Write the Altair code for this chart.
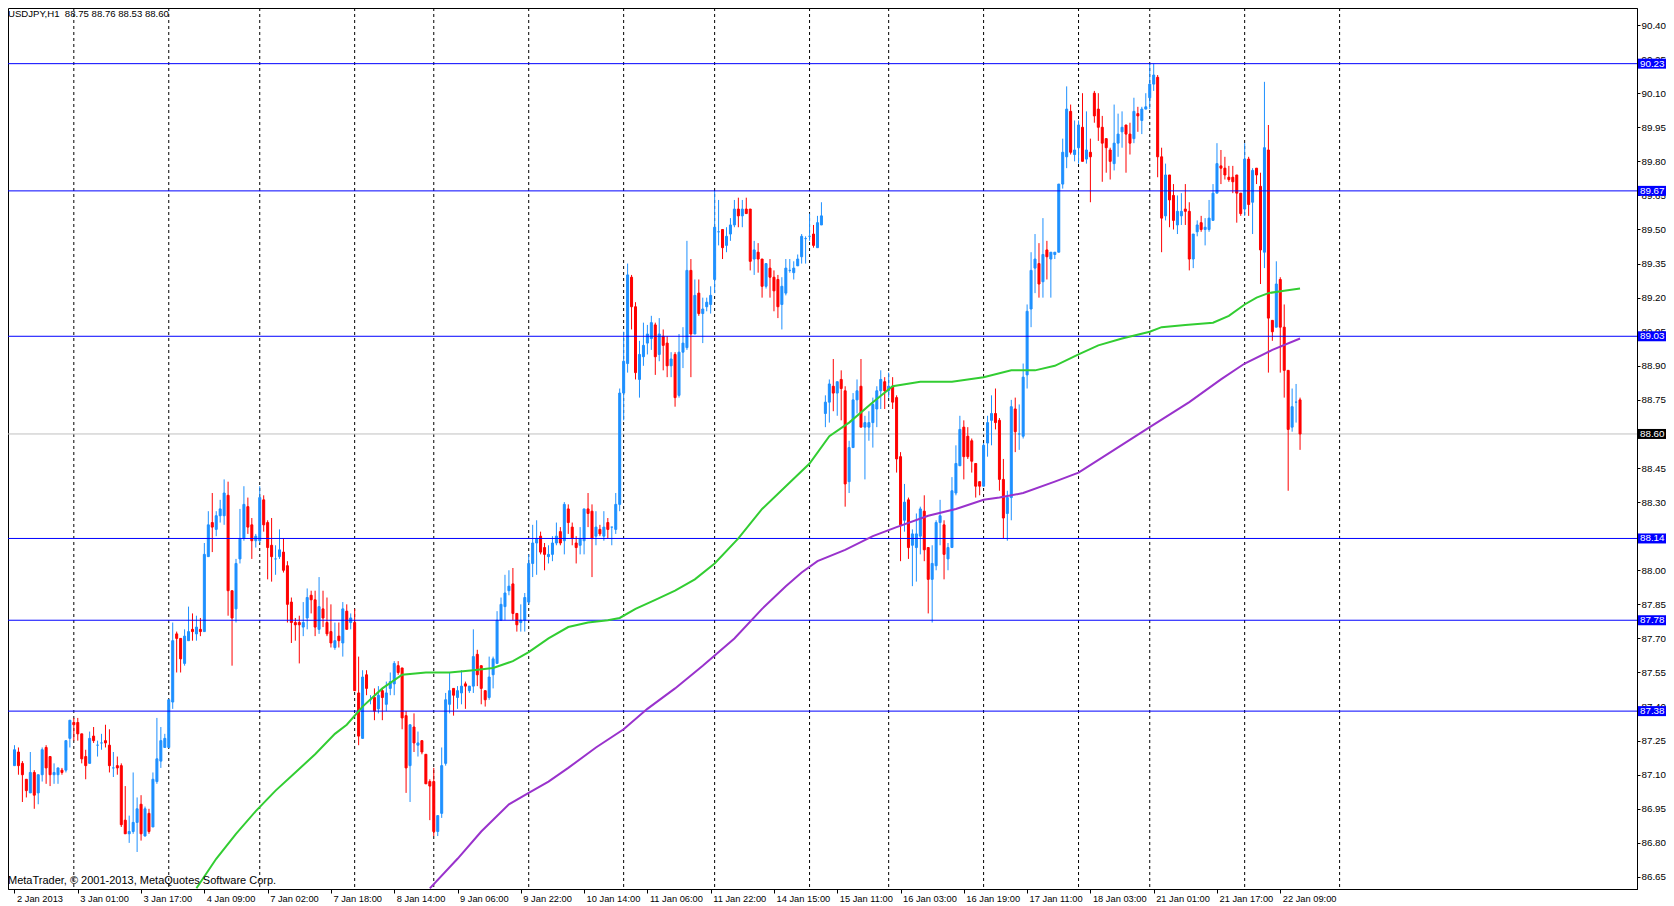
import json
import altair as alt
import pandas as pd

# ---------------- data ----------------
OPEN = [
    87.14, 87.20, 87.15, 87.08, 87.02, 87.11, 87.02, 87.10, 87.22, 87.18,
    87.10, 87.10, 87.12, 87.12, 87.26, 87.33, 87.33, 87.28, 87.18, 87.15,
    87.27, 87.23, 87.24, 87.25, 87.23, 87.13, 87.14, 87.14, 86.90, 86.84,
    86.85, 86.89, 86.97, 86.83, 86.93, 86.87, 87.07, 87.16, 87.22, 87.22,
    87.42, 87.72, 87.70, 87.59, 87.69, 87.74, 87.72, 87.74, 87.73, 88.06,
    88.21, 88.18, 88.24, 88.24, 88.33, 87.91, 87.83, 88.05, 88.14, 88.28,
    88.20, 88.13, 88.13, 88.31, 88.21, 88.11, 88.05, 88.06, 88.08, 88.02,
    87.86, 87.77, 87.77, 87.75, 87.79, 87.89, 87.87, 87.74, 87.83, 87.77,
    87.73, 87.66, 87.71, 87.68, 87.82, 87.77, 87.77, 87.46, 87.26, 87.54,
    87.43, 87.44, 87.39, 87.47, 87.41, 87.48, 87.50, 87.58, 87.57, 87.36,
    87.14, 87.31, 87.23, 87.25, 87.19, 87.07, 87.07, 86.85, 86.93, 87.15,
    87.41, 87.48, 87.44, 87.46, 87.50, 87.47, 87.49, 87.63, 87.58, 87.47,
    87.44, 87.54, 87.59, 87.78, 87.84, 87.91, 87.94, 87.81, 87.77, 87.78,
    87.86, 88.03, 88.12, 88.15, 88.10, 88.06, 88.07, 88.12, 88.17, 88.13,
    88.27, 88.19, 88.12, 88.11, 88.13, 88.27, 88.26, 88.15, 88.18, 88.15,
    88.21, 88.19, 88.18, 88.29, 88.78, 88.91, 89.29, 89.16, 88.84, 88.94,
    89.00, 89.02, 89.08, 88.95, 89.03, 89.00, 88.90, 88.95, 88.77, 88.96,
    88.98, 89.32, 89.04, 89.22, 89.13, 89.16, 89.17, 89.28, 89.49, 89.50,
    89.43, 89.48, 89.52, 89.59, 89.56, 89.59, 89.59, 89.37, 89.40, 89.37,
    89.25, 89.33, 89.29, 89.28, 89.17, 89.22, 89.32, 89.31, 89.34, 89.38,
    89.46, 89.47, 89.48, 89.42, 89.52, 88.69, 88.74, 88.81, 88.78, 88.84,
    88.79, 88.39, 88.54, 88.75, 88.81, 88.63, 88.63, 88.65, 88.71, 88.79,
    88.83, 88.79, 88.81, 88.76, 88.50, 88.22, 88.31, 88.11, 88.10, 88.15,
    88.26, 88.10, 87.96, 88.02, 88.21, 88.20, 88.05, 88.10, 88.34, 88.46,
    88.63, 88.59, 88.57, 88.47, 88.39, 88.37, 88.56, 88.66, 88.69, 88.66,
    88.40, 88.25, 88.32, 88.71, 88.60, 88.59, 88.86, 89.15, 89.33, 89.35,
    89.27, 89.41, 89.37, 89.39, 89.40, 89.70, 89.82, 90.02, 89.83, 89.86,
    89.95, 89.81, 89.84, 90.10, 90.03, 89.95, 89.90, 89.85, 89.79, 89.88,
    89.93, 89.96, 89.92, 89.90, 90.01, 89.98, 90.03, 90.08, 90.14, 90.17,
    89.82, 89.56, 89.74, 89.65, 89.52, 89.56, 89.59, 89.58, 89.37, 89.49,
    89.53, 89.50, 89.50, 89.54, 89.66, 89.78, 89.77, 89.73, 89.73, 89.74,
    89.66, 89.59, 89.81, 89.62, 89.77, 89.69, 89.40, 89.85, 89.10, 89.07,
    89.28, 89.07, 88.88, 88.63, 88.74, 88.75,
]
HIGH = [
    87.23, 87.22, 87.16, 87.08, 87.20, 87.12, 87.10, 87.22, 87.23, 87.18,
    87.15, 87.13, 87.13, 87.25, 87.34, 87.35, 87.35, 87.28, 87.21, 87.29,
    87.31, 87.25, 87.28, 87.32, 87.30, 87.20, 87.18, 87.15, 87.05, 86.92,
    87.11, 87.00, 87.01, 86.96, 86.95, 87.11, 87.35, 87.31, 87.28, 87.43,
    87.77, 87.73, 87.70, 87.74, 87.84, 87.81, 87.80, 87.79, 88.12, 88.26,
    88.34, 88.26, 88.31, 88.40, 88.39, 87.91, 88.05, 88.27, 88.37, 88.32,
    88.23, 88.16, 88.37, 88.33, 88.22, 88.23, 88.11, 88.18, 88.14, 88.04,
    87.88, 87.79, 87.80, 87.86, 87.92, 87.91, 87.91, 87.97, 87.91, 87.88,
    87.85, 87.77, 87.77, 87.86, 87.85, 87.81, 87.83, 87.62, 87.56, 87.56,
    87.45, 87.48, 87.49, 87.48, 87.51, 87.55, 87.60, 87.60, 87.57, 87.38,
    87.32, 87.37, 87.29, 87.25, 87.19, 87.08, 87.13, 86.92, 87.22, 87.46,
    87.55, 87.48, 87.49, 87.56, 87.51, 87.49, 87.74, 87.65, 87.58, 87.47,
    87.62, 87.62, 87.82, 87.88, 87.98, 88.00, 88.01, 87.81, 87.85, 87.90,
    88.07, 88.20, 88.22, 88.17, 88.12, 88.11, 88.15, 88.21, 88.19, 88.30,
    88.29, 88.21, 88.15, 88.19, 88.27, 88.34, 88.29, 88.26, 88.20, 88.26,
    88.23, 88.19, 88.34, 88.80, 89.05, 89.35, 89.30, 89.18, 89.01, 89.09,
    89.08, 89.12, 89.09, 89.11, 89.06, 89.03, 88.96, 88.96, 89.04, 89.07,
    89.45, 89.37, 89.28, 89.28, 89.20, 89.20, 89.25, 89.67, 89.63, 89.50,
    89.51, 89.55, 89.63, 89.64, 89.63, 89.64, 89.59, 89.45, 89.44, 89.37,
    89.35, 89.37, 89.32, 89.30, 89.29, 89.37, 89.37, 89.36, 89.39, 89.48,
    89.47, 89.57, 89.52, 89.56, 89.62, 88.77, 88.84, 88.93, 88.83, 88.88,
    88.81, 88.57, 88.78, 88.84, 88.93, 88.68, 88.70, 88.76, 88.81, 88.88,
    88.85, 88.87, 88.85, 88.77, 88.52, 88.38, 88.32, 88.18, 88.25, 88.28,
    88.33, 88.10, 88.11, 88.22, 88.31, 88.22, 88.12, 88.41, 88.55, 88.68,
    88.66, 88.63, 88.58, 88.47, 88.39, 88.56, 88.68, 88.77, 88.80, 88.67,
    88.49, 88.35, 88.75, 88.76, 88.73, 88.91, 89.17, 89.40, 89.48, 89.44,
    89.55, 89.45, 89.40, 89.40, 89.70, 89.90, 90.13, 90.05, 89.98, 89.98,
    90.10, 90.02, 89.90, 90.11, 90.10, 90.00, 89.90, 89.86, 90.05, 90.01,
    90.02, 89.96, 89.97, 90.08, 90.04, 90.04, 90.10, 90.23, 90.23, 90.18,
    89.86, 89.79, 89.74, 89.70, 89.65, 89.66, 89.70, 89.62, 89.48, 89.54,
    89.56, 89.55, 89.63, 89.70, 89.88, 89.85, 89.82, 89.78, 89.78, 89.74,
    89.66, 89.88, 89.82, 89.77, 89.77, 89.75, 90.15, 89.96, 89.10, 89.36,
    89.29, 89.17, 88.88, 88.80, 88.82, 88.76,
]
LOW = [
    87.14, 87.10, 86.98, 87.00, 87.02, 86.95, 86.97, 87.07, 87.06, 87.05,
    87.06, 87.06, 87.10, 87.11, 87.22, 87.25, 87.25, 87.15, 87.08, 87.15,
    87.24, 87.18, 87.21, 87.22, 87.11, 87.09, 87.10, 86.87, 86.84, 86.80,
    86.84, 86.76, 86.81, 86.83, 86.84, 86.87, 87.06, 87.13, 87.22, 87.22,
    87.39, 87.55, 87.55, 87.58, 87.69, 87.69, 87.69, 87.71, 87.73, 88.06,
    88.08, 88.15, 88.21, 88.20, 87.80, 87.58, 87.77, 88.03, 88.13, 88.16,
    88.05, 88.10, 88.12, 88.17, 87.96, 87.95, 87.98, 88.05, 87.99, 87.77,
    87.68, 87.69, 87.59, 87.71, 87.74, 87.81, 87.71, 87.72, 87.75, 87.71,
    87.66, 87.65, 87.66, 87.62, 87.74, 87.74, 87.47, 87.23, 87.26, 87.45,
    87.41, 87.34, 87.37, 87.34, 87.38, 87.45, 87.45, 87.54, 87.30, 87.02,
    86.98, 87.20, 87.18, 87.19, 87.06, 86.90, 86.83, 86.83, 86.91, 87.14,
    87.37, 87.36, 87.39, 87.41, 87.39, 87.46, 87.46, 87.49, 87.41, 87.40,
    87.43, 87.48, 87.59, 87.78, 87.78, 87.89, 87.78, 87.73, 87.73, 87.73,
    87.85, 87.97, 87.98, 88.07, 88.00, 88.03, 88.04, 88.11, 88.11, 88.07,
    88.16, 88.11, 88.03, 88.07, 88.07, 88.19, 87.97, 88.11, 88.15, 88.13,
    88.14, 88.11, 88.16, 88.26, 88.66, 88.87, 89.06, 88.84, 88.76, 88.90,
    88.95, 88.97, 88.86, 88.92, 88.88, 88.85, 88.85, 88.72, 88.76, 88.89,
    88.97, 88.85, 89.04, 89.12, 89.00, 89.14, 89.13, 89.22, 89.43, 89.37,
    89.40, 89.45, 89.51, 89.51, 89.51, 89.57, 89.32, 89.30, 89.31, 89.20,
    89.24, 89.20, 89.14, 89.11, 89.06, 89.21, 89.31, 89.28, 89.34, 89.35,
    89.35, 89.45, 89.42, 89.42, 89.52, 88.63, 88.65, 88.70, 88.68, 88.66,
    88.28, 88.34, 88.54, 88.69, 88.63, 88.40, 88.57, 88.54, 88.63, 88.71,
    88.71, 88.76, 88.71, 88.43, 88.04, 88.17, 88.05, 87.93, 87.95, 88.07,
    88.04, 87.81, 87.77, 88.00, 88.11, 87.96, 88.00, 88.10, 88.33, 88.46,
    88.40, 88.49, 88.43, 88.32, 88.33, 88.37, 88.50, 88.55, 88.62, 88.35,
    88.14, 88.13, 88.22, 88.52, 88.53, 88.58, 88.80, 89.07, 89.22, 89.20,
    89.20, 89.28, 89.20, 89.37, 89.40, 89.68, 89.77, 89.83, 89.80, 89.79,
    89.80, 89.79, 89.62, 89.97, 89.89, 89.71, 89.75, 89.72, 89.76, 89.82,
    89.86, 89.75, 89.83, 89.88, 89.93, 89.92, 90.03, 90.03, 90.11, 89.73,
    89.40, 89.54, 89.51, 89.50, 89.48, 89.52, 89.52, 89.32, 89.33, 89.47,
    89.49, 89.43, 89.49, 89.54, 89.66, 89.70, 89.72, 89.71, 89.66, 89.53,
    89.56, 89.56, 89.56, 89.48, 89.70, 89.26, 89.33, 88.87, 89.01, 89.07,
    88.87, 88.76, 88.35, 88.61, 88.65, 88.53,
]
CLOSE = [
    87.21, 87.14, 87.10, 87.03, 87.11, 87.01, 87.10, 87.21, 87.13, 87.10,
    87.11, 87.13, 87.11, 87.25, 87.34, 87.32, 87.28, 87.17, 87.14, 87.26,
    87.25, 87.23, 87.24, 87.24, 87.14, 87.13, 87.13, 86.88, 86.84, 86.85,
    86.89, 86.95, 86.84, 86.95, 86.85, 87.08, 87.17, 87.25, 87.26, 87.43,
    87.69, 87.70, 87.61, 87.71, 87.73, 87.73, 87.75, 87.73, 88.07, 88.20,
    88.19, 88.24, 88.27, 88.34, 87.91, 87.79, 88.03, 88.14, 88.29, 88.19,
    88.13, 88.15, 88.32, 88.20, 88.10, 88.06, 88.05, 88.09, 88.00, 87.85,
    87.77, 87.76, 87.76, 87.77, 87.88, 87.87, 87.75, 87.84, 87.79, 87.72,
    87.68, 87.69, 87.69, 87.83, 87.74, 87.79, 87.47, 87.27, 87.53, 87.48,
    87.43, 87.38, 87.45, 87.44, 87.46, 87.51, 87.59, 87.55, 87.35, 87.13,
    87.32, 87.24, 87.24, 87.20, 87.06, 87.05, 86.85, 86.92, 87.14, 87.43,
    87.47, 87.45, 87.47, 87.49, 87.49, 87.49, 87.62, 87.54, 87.48, 87.43,
    87.53, 87.61, 87.78, 87.85, 87.90, 87.93, 87.81, 87.76, 87.78, 87.88,
    88.03, 88.12, 88.14, 88.08, 88.07, 88.07, 88.12, 88.15, 88.12, 88.29,
    88.21, 88.14, 88.10, 88.14, 88.27, 88.25, 88.14, 88.19, 88.16, 88.19,
    88.18, 88.19, 88.29, 88.78, 88.92, 89.30, 89.16, 88.87, 88.95, 88.99,
    89.04, 89.09, 88.94, 89.04, 88.99, 88.90, 88.93, 88.76, 88.96, 89.00,
    89.32, 89.04, 89.21, 89.13, 89.15, 89.18, 89.21, 89.51, 89.49, 89.42,
    89.47, 89.52, 89.59, 89.56, 89.59, 89.57, 89.36, 89.41, 89.37, 89.25,
    89.35, 89.29, 89.23, 89.16, 89.25, 89.33, 89.32, 89.33, 89.37, 89.47,
    89.46, 89.47, 89.43, 89.53, 89.56, 88.74, 88.82, 88.78, 88.83, 88.80,
    88.38, 88.54, 88.75, 88.79, 88.63, 88.65, 88.65, 88.73, 88.79, 88.84,
    88.79, 88.81, 88.74, 88.49, 88.20, 88.30, 88.10, 88.16, 88.16, 88.27,
    88.09, 87.96, 88.03, 88.21, 88.24, 88.07, 88.10, 88.35, 88.47, 88.62,
    88.50, 88.50, 88.48, 88.37, 88.37, 88.55, 88.65, 88.69, 88.65, 88.40,
    88.23, 88.32, 88.72, 88.61, 88.60, 88.85, 89.14, 89.32, 89.37, 89.26,
    89.39, 89.38, 89.40, 89.40, 89.70, 89.84, 90.03, 89.84, 89.85, 89.96,
    89.80, 89.85, 89.82, 90.00, 89.95, 89.88, 89.86, 89.80, 89.88, 89.92,
    89.95, 89.92, 89.88, 90.02, 90.00, 90.03, 90.04, 90.14, 90.18, 89.82,
    89.55, 89.74, 89.63, 89.54, 89.58, 89.58, 89.58, 89.37, 89.48, 89.52,
    89.50, 89.51, 89.55, 89.66, 89.79, 89.77, 89.74, 89.72, 89.71, 89.66,
    89.57, 89.81, 89.61, 89.76, 89.74, 89.41, 89.86, 89.11, 89.05, 89.26,
    89.07, 88.88, 88.62, 88.72, 88.74, 88.60,
]

# moving averages (bar index, value)
MA_FAST_IDX = [46, 51, 56, 61, 66, 71, 76, 81, 84, 88, 93, 98, 104, 110, 116,
               121, 126, 130, 135, 140, 145, 150, 153, 157, 162, 167, 172, 177,
               183, 189, 195, 201, 206, 211, 217, 222, 229, 237, 245, 252, 258,
               263, 269, 274, 280, 287, 290, 296, 303, 307, 311, 314, 317, 321, 325]
MA_FAST_VAL = [86.60, 86.73, 86.84, 86.94, 87.03, 87.11, 87.19, 87.28, 87.32,
               87.40, 87.48, 87.54, 87.55, 87.55, 87.56, 87.57, 87.60, 87.64,
               87.70, 87.75, 87.77, 87.78, 87.79, 87.83, 87.87, 87.91, 87.96,
               88.03, 88.14, 88.27, 88.37, 88.47, 88.59, 88.65, 88.74, 88.81,
               88.83, 88.83, 88.85, 88.88, 88.88, 88.90, 88.95, 88.99, 89.02,
               89.05, 89.07, 89.08, 89.09, 89.12, 89.17, 89.20, 89.22, 89.23, 89.24]
MA_SLOW_IDX = [105, 112, 118, 125, 130, 135, 140, 147, 154, 160, 167, 174, 182,
               189, 195, 199, 203, 210, 217, 223, 231, 238, 245, 249, 255, 263,
               269, 278, 287, 297, 305, 311, 318, 325]
MA_SLOW_VAL = [86.60, 86.73, 86.85, 86.97, 87.02, 87.07, 87.13, 87.22, 87.30,
               87.39, 87.48, 87.58, 87.70, 87.83, 87.93, 87.99, 88.04, 88.09,
               88.15, 88.19, 88.24, 88.27, 88.31, 88.32, 88.34, 88.39, 88.43,
               88.53, 88.63, 88.74, 88.84, 88.91, 88.97, 89.02]

SEPARATORS = [15, 39, 62, 86, 106, 130, 154, 177, 201, 221, 245, 269, 287, 311, 335]
LEVELS = [90.23, 89.67, 89.03, 88.14, 87.78, 87.38]
CURRENT = [88.60]
Y_TICKS = [86.65, 86.80, 86.95, 87.10, 87.25, 87.40, 87.55, 87.70, 87.85, 88.00,
           88.15, 88.30, 88.45, 88.60, 88.75, 88.90, 89.05, 89.20, 89.35, 89.50,
           89.65, 89.80, 89.95, 90.10, 90.25, 90.40]
X_TICK_BARS = list(range(0, 321, 16))
X_TICK_LABELS = ["2 Jan 2013", "3 Jan 01:00", "3 Jan 17:00", "4 Jan 09:00",
                 "7 Jan 02:00", "7 Jan 18:00", "8 Jan 14:00", "9 Jan 06:00",
                 "9 Jan 22:00", "10 Jan 14:00", "11 Jan 06:00", "11 Jan 22:00",
                 "14 Jan 15:00", "15 Jan 11:00", "16 Jan 03:00", "16 Jan 19:00",
                 "17 Jan 11:00", "18 Jan 03:00", "21 Jan 01:00", "21 Jan 17:00",
                 "22 Jan 09:00"]
TITLE = "USDJPY,H1\u00a0 88.75 88.76 88.53 88.60"
FOOTER = "MetaTrader, \u00a9 2001-2013, MetaQuotes Software Corp."

# ---------------- frames ----------------
n = len(CLOSE)
candles = pd.DataFrame({
    "i": list(range(n)), "o": OPEN, "h": HIGH, "l": LOW, "c": CLOSE,
})
candles["dir"] = ["up" if c >= o else "down" for o, c in zip(OPEN, CLOSE)]
ma_fast = pd.DataFrame({"i": MA_FAST_IDX, "v": MA_FAST_VAL})
ma_slow = pd.DataFrame({"i": MA_SLOW_IDX, "v": MA_SLOW_VAL})
seps = pd.DataFrame({"i": SEPARATORS})
levels = pd.DataFrame({"p": LEVELS})
current = pd.DataFrame({"p": CURRENT})

FONT = "Liberation Sans"
W, H = 1629, 881

xscale = alt.Scale(domain=[-0.377, 408.92], nice=False, zero=False)
yscale = alt.Scale(domain=[86.597, 90.475], nice=False, zero=False)
xaxis = alt.Axis(values=X_TICK_BARS,
                 labelExpr="%s[round(datum.value / 16)]" % json.dumps(X_TICK_LABELS),
                 labelAlign="left", labelBaseline="top", labelOffset=2,
                 labelPadding=1, tickSize=4, grid=False, labelOverlap=False,
                 labelFlush=False, labelBound=False, labelFontSize=9.3, title=None)
yaxis = alt.Axis(orient="right", values=Y_TICKS, format=".2f", tickSize=3,
                 labelPadding=1, grid=False, labelOverlap=False,
                 labelFlush=False, labelBound=False, labelFontSize=9.8, title=None)

def X(field="i"):
    return alt.X(f"{field}:Q", scale=xscale, axis=xaxis, title=None)

def Y(field):
    return alt.Y(f"{field}:Q", scale=yscale, axis=yaxis, title=None)

dir_scale = alt.Scale(domain=["up", "down"], range=["#1E90FF", "#FF0000"])

separators = alt.Chart(seps).mark_rule(color="black", strokeWidth=1,
                                       strokeDash=[3, 3]).encode(x=X())

cur_line = alt.Chart(current).mark_rule(color="#C0C0C0", strokeWidth=1).encode(y=Y("p"))

wicks = alt.Chart(candles).mark_rule(strokeWidth=1).encode(
    x=X(), y=Y("l"), y2="h:Q",
    color=alt.Color("dir:N", scale=dir_scale, legend=None),
)
bodies = alt.Chart(candles).mark_bar(width=2, strokeWidth=1).encode(
    x=X(), y=Y("o"), y2="c:Q",
    color=alt.Color("dir:N", scale=dir_scale, legend=None),
    stroke=alt.Stroke("dir:N", scale=dir_scale, legend=None),
)

level_lines = alt.Chart(levels).mark_rule(color="#0000FF", strokeWidth=1).encode(y=Y("p"))

fast = alt.Chart(ma_fast).mark_line(color="#32CD32", strokeWidth=2, clip=True).encode(
    x=X(), y=Y("v"))
slow = alt.Chart(ma_slow).mark_line(color="#9932CC", strokeWidth=2, clip=True).encode(
    x=X(), y=Y("v"))

def tag(df, fill):
    base = alt.Chart(df).transform_calculate(
        top="datum.p + 0.022", bot="datum.p - 0.022",
        lab="format(datum.p, '.2f')")
    box = base.mark_rect(color=fill).encode(
        x=alt.value(W + 1), x2=alt.value(W + 29), y=Y("top"), y2="bot:Q")
    txt = base.mark_text(align="left", baseline="middle", font=FONT, fontSize=9.8,
                         color="white").encode(
        x=alt.value(W + 3), y=Y("p"), text="lab:N")
    return box + txt

title = alt.Chart(pd.DataFrame({"t": [TITLE]})).mark_text(
    align="left", baseline="top", font=FONT, fontSize=9.6, color="black"
).encode(x=alt.value(0), y=alt.value(1), text="t:N")
footer = alt.Chart(pd.DataFrame({"t": [FOOTER]})).mark_text(
    align="left", baseline="middle", font=FONT, fontSize=11, color="black"
).encode(x=alt.value(0), y=alt.value(H - 8), text="t:N")

chart = alt.layer(
    separators, cur_line, wicks, bodies, level_lines, fast, slow,
    tag(levels, "#0000FF"), tag(current, "black"), title, footer,
).properties(
    width=W, height=H,
    padding={"left": 0, "top": 0, "right": 29, "bottom": 17},
    autosize=alt.AutoSizeParams(type="none"),
    background="white",
).configure_view(
    stroke="black", strokeWidth=1
).configure_axis(
    labelFont=FONT, labelColor="black",
    tickColor="black", domainColor="black", tickWidth=1, domainWidth=1,
)

chart.save("out.html", embed_options={"renderer": "svg", "actions": False})
